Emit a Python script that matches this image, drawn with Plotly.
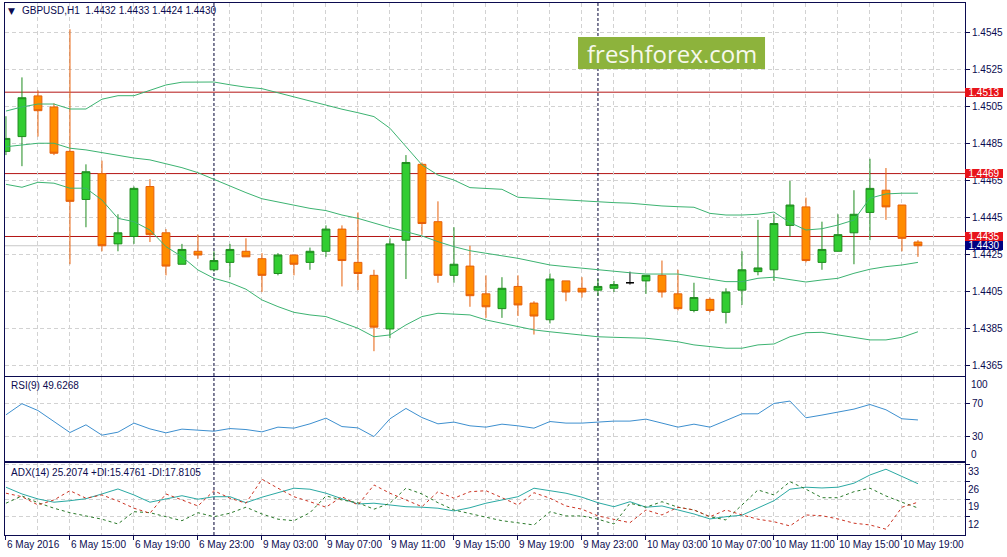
import plotly.graph_objects as go
from plotly.subplots import make_subplots

# GBPUSD H1, one bar per hour from 6 May 2016 11:00 to 10 May 2016 20:00
opens = [1.4481, 1.4489, 1.4511, 1.4505, 1.4481, 1.4455, 1.4469, 1.4431, 1.4435, 1.4462,
         1.4437, 1.4420, 1.4427, 1.4417, 1.4421, 1.4427, 1.4423, 1.4415, 1.4425, 1.4421,
         1.4427, 1.4439, 1.4421, 1.4414, 1.4385, 1.4433, 1.4474, 1.4443, 1.4414, 1.4419,
         1.4404, 1.4396, 1.4408, 1.4399, 1.4390, 1.4411, 1.4407, 1.4406, 1.4407, 1.4410,
         1.4411, 1.4414, 1.4404, 1.4395, 1.4401, 1.4394, 1.4406, 1.4416, 1.4417, 1.4441,
         1.4451, 1.4421, 1.4427, 1.4437, 1.4448, 1.4460, 1.4452, 1.4432]
highs = [1.4500, 1.4521, 1.4514, 1.4507, 1.4547, 1.4474, 1.4476, 1.4447, 1.4462, 1.4466,
         1.4439, 1.4431, 1.4436, 1.4427, 1.4431, 1.4434, 1.4426, 1.4426, 1.4425, 1.4429,
         1.4441, 1.4441, 1.4448, 1.4417, 1.4434, 1.4479, 1.4475, 1.4454, 1.4440, 1.4430,
         1.4414, 1.4413, 1.4414, 1.4400, 1.4415, 1.4411, 1.4413, 1.4412, 1.4411, 1.4416,
         1.4414, 1.4422, 1.4417, 1.4410, 1.4402, 1.4407, 1.4427, 1.4444, 1.4447, 1.4465,
         1.4456, 1.4443, 1.4447, 1.4460, 1.4477, 1.4472, 1.4452, 1.4433]
lows = [1.4479, 1.4473, 1.4489, 1.4479, 1.4420, 1.4440, 1.4427, 1.4427, 1.4431, 1.4432,
        1.4414, 1.4420, 1.4423, 1.4416, 1.4413, 1.4424, 1.4405, 1.4414, 1.4414, 1.4417,
        1.4424, 1.4408, 1.4406, 1.4373, 1.4380, 1.4412, 1.4436, 1.4410, 1.4410, 1.4397,
        1.4391, 1.4391, 1.4392, 1.4382, 1.4388, 1.4400, 1.4402, 1.4403, 1.4405, 1.4409,
        1.4404, 1.4402, 1.4395, 1.4394, 1.4394, 1.4388, 1.4398, 1.4414, 1.4411, 1.4435,
        1.4421, 1.4417, 1.4427, 1.4420, 1.4433, 1.4444, 1.4427, 1.4424]
closes = [1.4488, 1.4510, 1.4503, 1.4480, 1.4454, 1.4470, 1.4430, 1.4437, 1.4461, 1.4436,
          1.4419, 1.4428, 1.4425, 1.4422, 1.4428, 1.4424, 1.4414, 1.4425, 1.4420, 1.4427,
          1.4439, 1.4422, 1.4415, 1.4386, 1.4431, 1.4475, 1.4442, 1.4414, 1.4420, 1.4403,
          1.4397, 1.4407, 1.4398, 1.4392, 1.4412, 1.4405, 1.4405, 1.4408, 1.4409, 1.4410,
          1.4414, 1.4405, 1.4396, 1.4402, 1.4395, 1.4405, 1.4417, 1.4418, 1.4442, 1.4452,
          1.4422, 1.4428, 1.4436, 1.4447, 1.4461, 1.4451, 1.4434, 1.4430]

# Bollinger bands
bb_upper = [1.45028, 1.45050, 1.45066, 1.45066, 1.45039, 1.45039, 1.45092, 1.45111, 1.45111, 1.45138,
            1.45169, 1.45184, 1.45185, 1.45185, 1.45170, 1.45157, 1.45149, 1.45126, 1.45106, 1.45082,
            1.45059, 1.45038, 1.45019, 1.44998, 1.44935, 1.44835, 1.44737, 1.44682, 1.44655, 1.44614,
            1.44611, 1.44605, 1.44562, 1.44557, 1.44551, 1.44546, 1.44542, 1.44538, 1.44533, 1.44530,
            1.44522, 1.44515, 1.44511, 1.44508, 1.44475, 1.44466, 1.44466, 1.44470, 1.44482, 1.44425,
            1.44385, 1.44392, 1.44412, 1.44439, 1.44557, 1.44580, 1.44584, 1.44584]
bb_middle = [1.44835, 1.44843, 1.44854, 1.44854, 1.44827, 1.44818, 1.44803, 1.44789, 1.44774, 1.44764,
             1.44742, 1.44722, 1.44695, 1.44659, 1.44619, 1.44587, 1.44554, 1.44537, 1.44517, 1.44502,
             1.44490, 1.44466, 1.44448, 1.44421, 1.44398, 1.44376, 1.44353, 1.44322, 1.44295, 1.44273,
             1.44259, 1.44248, 1.44232, 1.44214, 1.44196, 1.44187, 1.44178, 1.44169, 1.44162, 1.44154,
             1.44147, 1.44147, 1.44147, 1.44133, 1.44119, 1.44106, 1.44106, 1.44124, 1.44130, 1.44119,
             1.44104, 1.44115, 1.44124, 1.44151, 1.44173, 1.44187, 1.44196, 1.44210]
bb_lower = [1.44632, 1.44616, 1.44643, 1.44638, 1.44611, 1.44611, 1.44547, 1.44448, 1.44430, 1.44385,
            1.44295, 1.44241, 1.44169, 1.44124, 1.44100, 1.44065, 1.44007, 1.43971, 1.43940, 1.43926,
            1.43917, 1.43884, 1.43854, 1.43808, 1.43818, 1.43872, 1.43917, 1.43935, 1.43931, 1.43926,
            1.43899, 1.43881, 1.43866, 1.43845, 1.43835, 1.43827, 1.43818, 1.43808, 1.43805, 1.43803,
            1.43800, 1.43791, 1.43781, 1.43764, 1.43754, 1.43746, 1.43746, 1.43764, 1.43769, 1.43808,
            1.43830, 1.43832, 1.43818, 1.43805, 1.43791, 1.43791, 1.43805, 1.43835]

rsi = [55.8, 69.2, 61.0, 47.7, 34.4, 43.7, 31.2, 34.8, 45.8, 38.8,
       34.0, 38.5, 37.3, 36.0, 39.2, 38.0, 35.2, 40.9, 39.7, 44.9,
       51.8, 41.6, 40.0, 29.5, 51.0, 63.5, 52.5, 44.9, 47.0, 42.5,
       40.9, 44.5, 42.5, 39.7, 47.7, 45.8, 45.8, 47.0, 48.2, 48.2,
       50.6, 45.8, 40.9, 44.5, 40.9, 48.9, 57.0, 57.0, 69.5, 72.4,
       52.2, 55.5, 59.1, 62.7, 68.3, 61.9, 51.0, 49.6]

adx = [23.8, 21.1, 19.1, 17.8, 18.4, 19.2, 21.1, 23.1, 20.7, 17.8,
       19.1, 20.4, 19.0, 20.0, 20.0, 17.6, 19.8, 21.6, 23.4, 23.0,
       21.4, 19.2, 17.1, 17.4, 16.7, 16.0, 15.8, 15.4, 14.3, 15.6,
       17.4, 18.8, 20.0, 23.4, 22.4, 21.4, 19.8, 17.6, 16.0, 18.0,
       15.8, 16.3, 14.7, 13.1, 11.1, 12.0, 12.6, 15.4, 18.4, 23.0,
       23.8, 23.5, 23.8, 25.4, 28.7, 31.0, 28.0, 25.2]
plus_di = [17.4, 20.3, 17.6, 15.4, 13.6, 12.4, 11.0, 9.1, 14.0, 13.6,
           12.0, 10.4, 13.6, 12.0, 13.4, 15.8, 13.1, 11.0, 10.4, 13.6,
           20.3, 18.7, 17.6, 15.0, 17.4, 23.4, 21.1, 17.6, 14.7, 13.1,
           11.8, 10.4, 9.4, 8.7, 14.0, 12.3, 12.3, 11.0, 9.1, 17.4,
           15.8, 18.0, 15.8, 14.7, 12.0, 10.7, 16.7, 22.7, 20.7, 26.0,
           23.0, 19.6, 19.6, 22.0, 23.4, 20.3, 17.8, 15.5]
minus_di = [21.4, 20.0, 16.7, 18.7, 22.4, 19.4, 20.7, 18.3, 15.4, 13.4,
            21.1, 18.7, 16.3, 22.4, 19.4, 17.4, 27.0, 23.4, 20.0, 18.0,
            15.8, 20.0, 16.7, 24.7, 21.4, 18.7, 16.0, 22.0, 19.4, 22.0,
            22.4, 19.6, 16.7, 21.6, 19.4, 16.3, 15.0, 12.3, 11.0, 9.6,
            14.7, 12.7, 15.8, 14.7, 12.0, 14.7, 12.7, 11.0, 10.0, 8.3,
            12.7, 12.4, 11.1, 9.4, 8.7, 7.0, 15.8, 17.8]

time_labels = ["6 May 2016", "6 May 15:00", "6 May 19:00", "6 May 23:00", "9 May 03:00",
               "9 May 07:00", "9 May 11:00", "9 May 15:00", "9 May 19:00", "9 May 23:00",
               "10 May 03:00", "10 May 07:00", "10 May 11:00", "10 May 15:00", "10 May 19:00"]

levels = [1.4513, 1.4469, 1.4435]
last_price = 1.4430
day_breaks = [13, 37]  # 9 May 00:00 and 10 May 00:00

bars = list(range(len(opens)))
label_pos = bars[::4]

NAVY = "#0b0b50"
GRID = "#d2d2d2"
BB = "#3cb371"

fig = make_subplots(rows=3, cols=1, shared_xaxes=True, vertical_spacing=0.004)

for band in (bb_upper, bb_middle, bb_lower):
    fig.add_trace(go.Scatter(x=bars, y=band, mode="lines", line=dict(color=BB, width=1),
                             hoverinfo="skip"), row=1, col=1)

normal = [i for i in bars if opens[i] != closes[i]]
doji = [i for i in bars if opens[i] == closes[i]]


def pick(arr, idx):
    return [arr[i] for i in idx]


fig.add_trace(go.Candlestick(
    x=normal, open=pick(opens, normal), high=pick(highs, normal),
    low=pick(lows, normal), close=pick(closes, normal),
    increasing=dict(line=dict(color="#1f8c1f", width=1), fillcolor="#32cd32"),
    decreasing=dict(line=dict(color="#e6600a", width=1), fillcolor="#ff8c00"),
    hoverinfo="skip"), row=1, col=1)
fig.add_trace(go.Candlestick(
    x=doji, open=pick(opens, doji), high=pick(highs, doji),
    low=pick(lows, doji), close=pick(closes, doji),
    increasing=dict(line=dict(color="black", width=1), fillcolor="black"),
    decreasing=dict(line=dict(color="black", width=1), fillcolor="black"),
    hoverinfo="skip"), row=1, col=1)

fig.add_trace(go.Scatter(x=bars, y=rsi, mode="lines", line=dict(color="#3d8fcf", width=1),
                         hoverinfo="skip"), row=2, col=1)

fig.add_trace(go.Scatter(x=bars, y=adx, mode="lines", line=dict(color="#2aa9a3", width=1),
                         hoverinfo="skip"), row=3, col=1)
fig.add_trace(go.Scatter(x=bars, y=plus_di, mode="lines",
                         line=dict(color="#2a7a2a", width=1, dash="3px,3px"),
                         hoverinfo="skip"), row=3, col=1)
fig.add_trace(go.Scatter(x=bars, y=minus_di, mode="lines",
                         line=dict(color="#cc3322", width=1, dash="3px,3px"),
                         hoverinfo="skip"), row=3, col=1)

# current price and horizontal levels
fig.add_shape(type="line", xref="x domain", yref="y", x0=0, x1=1, y0=last_price, y1=last_price,
              line=dict(color="#c8c8c8", width=1), layer="below")
for lv in levels:
    fig.add_shape(type="line", xref="x domain", yref="y", x0=0, x1=1, y0=lv, y1=lv,
                  line=dict(color="#b41414", width=1), layer="below")

# day separators through every pane
for d in day_breaks:
    for ax in ("x", "x2", "x3"):
        yax = ax.replace("x", "y")
        fig.add_shape(type="line", xref=ax, yref=yax + " domain", x0=d, x1=d, y0=0, y1=1,
                      line=dict(color="#000033", width=1, dash="3px,2px"), layer="below")

# watermark
fig.add_shape(type="rect", xref="paper", yref="paper", x0=0.5969, x1=0.7917, y0=0.8759, y1=0.9361,
              fillcolor="#8db33c", line=dict(width=0), layer="above")


def note(x, y, text, xanchor="left", yref="paper", **kw):
    return dict(x=x, y=y, xref="paper", yref=yref, text=text, showarrow=False,
                xanchor=xanchor, yanchor="middle", **kw)


annotations = [
    note(0.6943, 0.906, "freshforex.com", xanchor="center",
         font=dict(family="Open Sans", size=24, color="#f6f8ec")),
    note(0.0063, 0.985, "▼", xanchor="center", font=dict(family="DejaVu Sans", size=9, color=NAVY)),
    note(0.0156, 0.985, "GBPUSD,H1\u00a0\u00a01.4432 1.4433 1.4424 1.4430"),
    note(0.0042, 0.2801, "RSI(9) 49.6268"),
    note(0.0042, 0.1184, "ADX(14) 25.2074 +DI:15.4761 -DI:17.8105"),
    note(1, 0.2838, "100", xshift=4),
    note(1, 0.1517, "<span>0</span>", xshift=4),
]
for lv in levels:
    annotations.append(note(1, lv, f"{lv:.4f}", yref="y", bgcolor="#e8141b", width=38, height=9,
                            borderpad=0, borderwidth=0, font=dict(color="white", size=10)))
annotations.append(note(1, last_price, f"{last_price:.4f}", yref="y", bgcolor="#000080", width=38,
                        height=9, borderpad=0, borderwidth=0, font=dict(color="white", size=10)))

fig.update_layout(
    width=1007, height=557,
    margin=dict(l=5, r=42, t=3, b=22, autoexpand=False),
    paper_bgcolor="white", plot_bgcolor="white",
    font=dict(family="Liberation Sans", size=10, color=NAVY),
    showlegend=False, hovermode=False,
    annotations=annotations,
)

fig.update_xaxes(range=[-0.06, 59.94], showline=True, mirror=True, linecolor=NAVY, linewidth=1,
                 showgrid=True, gridcolor=GRID, griddash="4px,3px", zeroline=False,
                 tickvals=label_pos, ticktext=time_labels, automargin=False,
                 minor=dict(tickvals=[p + 2 for p in label_pos], showgrid=True, gridcolor=GRID,
                            griddash="4px,3px", ticklen=0),
                 rangeslider=dict(visible=False))
fig.update_xaxes(ticks="outside", ticklen=4, tickcolor=NAVY, tickangle=0,
                 ticklabelposition="outside right", row=3, col=1)

fig.update_yaxes(side="right", showline=True, mirror=True, linecolor=NAVY, linewidth=1,
                 showgrid=True, gridcolor=GRID, griddash="4px,3px", zeroline=False,
                 ticks="outside", ticklen=4, tickcolor=NAVY, automargin=False)
fig.update_layout(
    yaxis=dict(domain=[0.2989, 1], range=[1.43596, 1.45612],
               tickvals=[1.4365 + 0.002 * k for k in range(10)], tickformat=".4f"),
    yaxis2=dict(domain=[0.1391, 0.2970], range=[0, 101.5], tickvals=[70, 30]),
    yaxis3=dict(domain=[0, 0.1353], range=[4.68, 33.48], tickvals=[33, 26, 19, 12],
                ticklabelposition="outside bottom"),
)

fig.write_html("out.html", config={"displayModeBar": False},
               post_script="document.body.style.margin='0';")
